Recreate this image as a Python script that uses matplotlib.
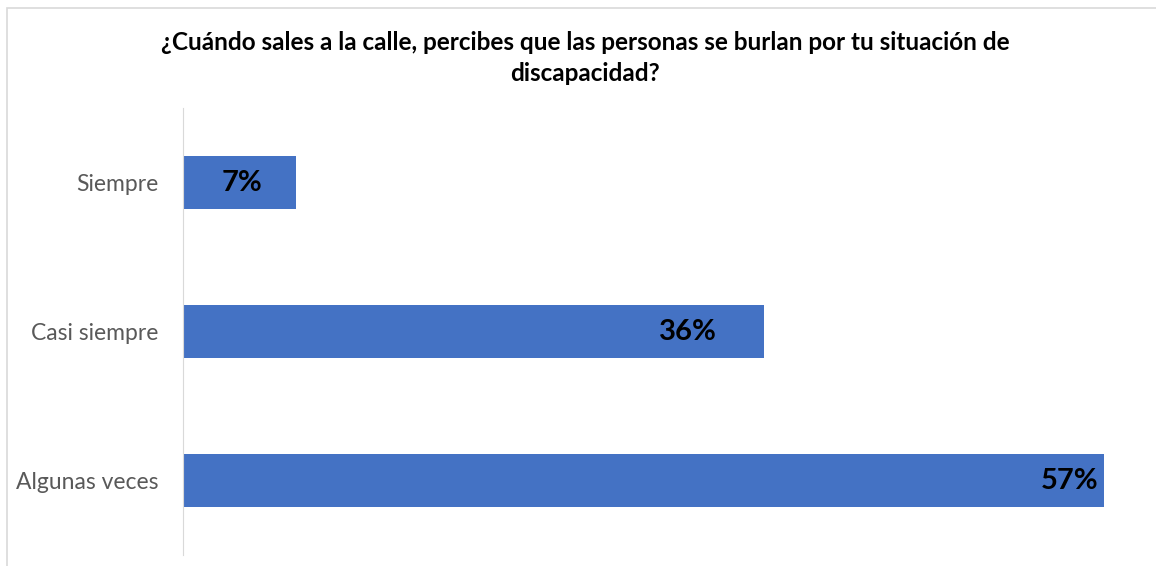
import matplotlib.pyplot as plt
from matplotlib.patches import Rectangle
from matplotlib.transforms import offset_copy

categorias = ['Siempre', 'Casi siempre', 'Algunas veces']
valores = [0.07, 0.36, 0.57]
etiquetas = ['7%', '36%', '57%']
titulo = ('¿Cuándo sales a la calle, percibes que las personas se burlan por tu situación de\n'
          'discapacidad?')

# desplazamiento de cada etiqueta respecto al final de la barra (puntos)
desplaz = [-24, -34, -4]

plt.rcParams['font.family'] = ['Lato', 'DejaVu Sans']

W, H = 1156, 566
fig = plt.figure(figsize=(W / 100, H / 100), dpi=100)

# marco del grafico
fig.patches.append(Rectangle((7 / W, -0.01), 1.2, 1 - 8 / H + 0.01, transform=fig.transFigure,
                             fill=False, edgecolor='#d9d9d9', linewidth=1.2))

ax = fig.add_axes([183 / W, 11 / H, (1152 - 183) / W, (555 - 108) / H])
y = list(range(len(categorias)))
ax.barh(y, valores, height=0.35, color='#4472c4')
ax.set_ylim(len(categorias) - 0.5, -0.5)
ax.set_xlim(0, 0.6)

for yi, v, t, d in zip(y, valores, etiquetas, desplaz):
    tr = offset_copy(ax.transData, fig=fig, x=d, y=0, units='points')
    ax.text(v, yi, t, ha='right', va='center', fontsize=21,
            fontweight='bold', color='black', transform=tr)

ax.set_yticks(y)
ax.set_yticklabels(categorias, fontsize=16.5, color='#595959')
ax.tick_params(axis='y', length=0, pad=18)
ax.set_xticks([])
for s in ['top', 'right', 'bottom']:
    ax.spines[s].set_visible(False)
ax.spines['left'].set_color('#d9d9d9')

fig.text(585 / W, 1 - 58 / H, titulo, ha='center', va='center', fontsize=17.5,
         fontweight='bold', linespacing=1.45)

fig.savefig('out.png', dpi=100)
